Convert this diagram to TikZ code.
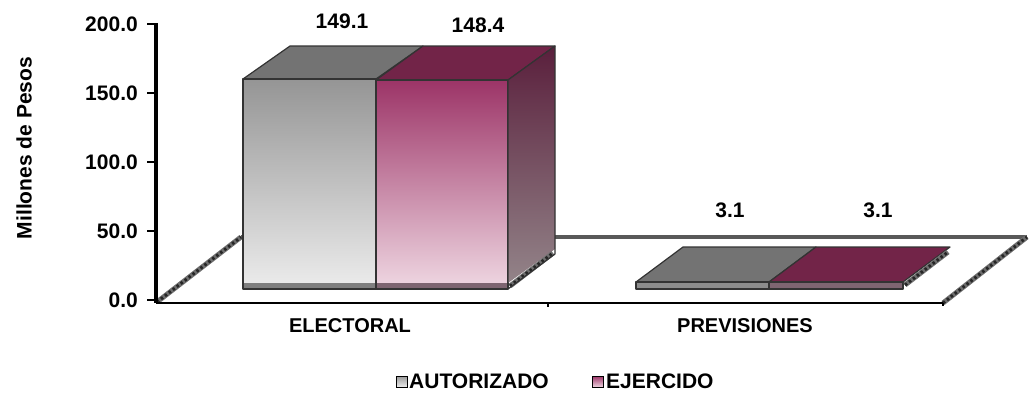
\documentclass[tikz,border=0pt]{standalone}
\usepackage{fontspec}
\setmainfont{Liberation Sans}
\definecolor{gtop}{HTML}{737373}
\definecolor{gfrontA}{HTML}{959595}
\definecolor{gfrontB}{HTML}{EAEAEA}
\definecolor{ptop}{HTML}{722448}
\definecolor{pfrontA}{HTML}{9C3467}
\definecolor{pfrontB}{HTML}{EDD3DF}
\definecolor{psideA}{HTML}{5A1F3C}
\definecolor{psideB}{HTML}{938489}
\definecolor{gstrip}{HTML}{7F7F7F}
\definecolor{pstrip}{HTML}{7E6571}
\definecolor{backln}{HTML}{595959}
\definecolor{edge}{HTML}{333333}
\definecolor{hatchgray}{HTML}{6E6E6E}
\begin{document}
\begin{tikzpicture}[x=1pt,y=-1pt,
  lbl/.style={font=\fontsize{21}{23}\selectfont\bfseries, inner sep=0pt},
  catlbl/.style={font=\fontsize{20}{22}\selectfont\bfseries, inner sep=0pt},
  face/.style={draw=edge, line width=1.2pt, line join=round},
  hatchbase/.style={line width=5pt, hatchgray},
  hatchtop/.style={line width=3pt, black!85, dash pattern=on 2.5pt off 2.5pt},
  tickln/.style={line width=1.2pt, black}]
\useasboundingbox (0,0) rectangle (1029,392);
% floor corners
\coordinate (fl) at (157,302);
\coordinate (fr) at (943,303);
\coordinate (bl) at (241,237);
\coordinate (br) at (1027,237);
% back floor edge
\draw[line width=4pt, backln] (bl) -- (br);
% side diagonals (hatched)
\draw[hatchbase] (fl) -- (bl);
\draw[hatchtop] (fl) -- (bl);
\draw[hatchbase] (fr) -- (br);
\draw[hatchtop] (fr) -- (br);
% front floor line
\draw[line width=1.6pt] (156,303) -- (fr);
\coordinate (tk1) at (548,303);
\draw[tickln] (tk1) -- ++(0,4);
\draw[tickln] (fr) -- ++(0,3);
% y axis
\coordinate (ax0) at (156,303);
\coordinate (ax1) at (156,23);
\draw[line width=4pt] (ax0) -- (ax1);
\foreach \yy/\lab/\nm in {24/200.0/t200, 93/150.0/t150, 162/100.0/t100, 231/50.0/t50, 300/0.0/t0}{
  \draw[tickln] (147,\yy) -- (156,\yy);
  \node[lbl, anchor=east] (\nm) at (138,\yy) {\lab};
}
\node[lbl, rotate=90] (ytitle) at (24,148) {Millones de Pesos};

% ---------- ELECTORAL ----------
% autorizado
\fill[gtop] (243,79) -- (376,79) -- (423,46) -- (290,46) -- cycle;
\draw[face] (243,79) -- (376,79) -- (423,46) -- (290,46) -- cycle;
\shade[top color=gfrontA, bottom color=gfrontB] (243,79) rectangle (376,283);
\fill[gstrip] (243,283) rectangle (376,289);
\draw[face] (243,79) rectangle (376,289);
% ejercido
\fill[ptop] (376,80) -- (508,80) -- (555,46) -- (423,46) -- cycle;
\draw[face] (376,80) -- (508,80) -- (555,46) -- (423,46) -- cycle;
\shade[top color=pfrontA, bottom color=pfrontB] (376,80) rectangle (508,283);
\fill[pstrip] (376,283) rectangle (508,289);
\draw[face] (376,80) rectangle (508,289);
\shade[top color=psideA, bottom color=psideB] (508,80) -- (555,46) -- (555,249) -- (508,283) -- cycle;
\draw[hatchbase] (510,286) -- (553,253);
\draw[hatchtop] (510,286) -- (553,253);
\draw[face] (508,80) -- (555,46) -- (555,254) -- (508,289) -- cycle;

% ---------- PREVISIONES ----------
\fill[gtop] (636,282) -- (769,282) -- (816,247) -- (683,247) -- cycle;
\draw[face] (636,282) -- (769,282) -- (816,247) -- (683,247) -- cycle;
\fill[ptop] (769,282) -- (903,282) -- (950,247) -- (816,247) -- cycle;
\draw[face] (769,282) -- (903,282) -- (950,247) -- (816,247) -- cycle;
\fill[gstrip!90!white] (636,282) rectangle (769,289);
\draw[face] (636,282) rectangle (769,289);
\fill[pstrip] (769,282) rectangle (903,289);
\draw[face] (769,282) rectangle (903,289);
\draw[hatchbase] (905,285) -- (948,252);
\draw[hatchtop] (905,285) -- (948,252);

% data labels
\node[lbl] (v1) at (342,21) {149.1};
\node[lbl] (v2) at (478,25) {148.4};
\node[lbl] (v3) at (730,210) {3.1};
\node[lbl] (v4) at (878,210) {3.1};

% category labels
\node[catlbl] (c1) at (350,326) {ELECTORAL};
\node[catlbl] (c2) at (745,326) {PREVISIONES};

% legend
\shade[top color=gray!80, bottom color=gray!15] (396,376) rectangle (407,387);
\draw[line width=1pt] (396,376) rectangle (407,387);
\node[lbl, anchor=west] (l1) at (409,381.5) {AUTORIZADO};
\shade[top color=pfrontA, bottom color=pfrontB] (592,376) rectangle (603,387);
\draw[line width=1pt] (592,376) rectangle (603,387);
\node[lbl, anchor=west] (l2) at (606,381.5) {EJERCIDO};
\end{tikzpicture}
\end{document}
